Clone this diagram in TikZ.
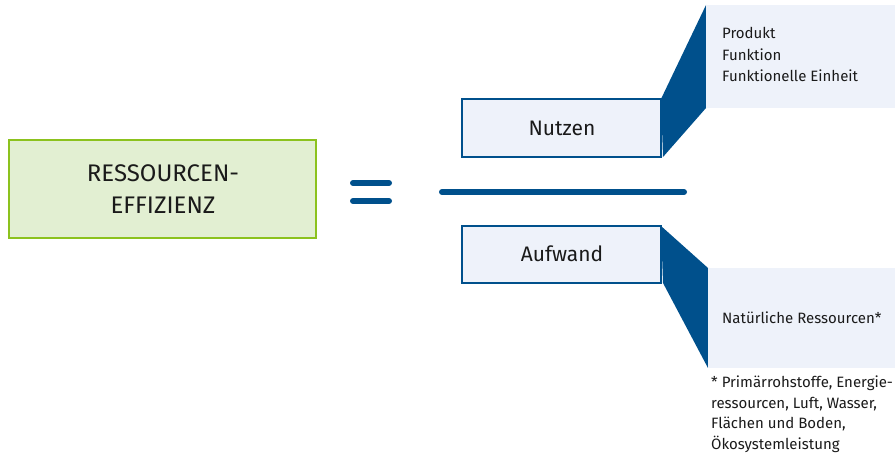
\documentclass[tikz,border=0pt]{standalone}
\usepackage{fontspec}
\setmainfont{Fira Sans}[Scale=1]
\definecolor{dblue}{HTML}{00508C}
\definecolor{lblue}{HTML}{EEF2FA}
\definecolor{lgreen}{HTML}{E2EFD2}
\definecolor{dgreen}{HTML}{8CC21E}
\definecolor{txt}{HTML}{1A1A1A}
\tikzset{
  bar/.style={draw=dblue, line width=6pt, line cap=round},
  termbox/.style={draw=dblue, fill=lblue, line width=2pt},
  wedge/.style={fill=dblue, draw=none},
  infobox/.style={fill=lblue, draw=none},
  small/.style={font=\fontsize{15}{20.5}\selectfont, text=txt, align=left, anchor=west, inner sep=0pt},
}
\begin{document}
\begin{tikzpicture}[x=1pt,y=-1pt]
\useasboundingbox (0,0) rectangle (895,454);
% left box
\draw[draw=dgreen, fill=lgreen, line width=2pt] (9,140) rectangle (316,238);
\node[font=\fontsize{24}{32}\selectfont, text=txt, align=center] (re) at (163,189) {RESSOURCEN-\\EFFIZIENZ};
% equals
\coordinate (e1a) at (353,183); \coordinate (e1b) at (389,183);
\coordinate (e2a) at (353,201); \coordinate (e2b) at (389,201);
\draw[bar] (e1a) -- (e1b);
\draw[bar] (e2a) -- (e2b);
% fraction bar
\coordinate (fa) at (442,192); \coordinate (fb) at (684,192);
\draw[bar] (fa) -- (fb);
% Nutzen
\fill[wedge] (661,99) -- (706,5) -- (706,108) -- (663,157) -- cycle;
\fill[infobox] (706,5) rectangle (895,108);
\draw[termbox] (462,99) rectangle (661,157);
\node[font=\fontsize{21}{26}\selectfont, text=txt] (nutzen) at (562,128) {Nutzen};
\node[small] (prod) at (722,33) {Produkt};
\node[small] (fkt) at (722,55) {Funktion};
\node[small] (fe) at (722,76) {Funktionelle Einheit};
% Aufwand
\fill[wedge] (661,226) -- (708,268) -- (708,368) -- (663,283) -- cycle;
\fill[infobox] (708,268) rectangle (895,368);
\draw[termbox] (462,226) rectangle (661,283);
\node[font=\fontsize{21}{26}\selectfont, text=txt] (aufwand) at (562,254) {Aufwand};
\node[small] (nat) at (722,318) {Natürliche Ressourcen*};
\node[small, anchor=north west] (fn) at (711,376) {* Primärrohstoffe, Energie-\\ressourcen, Luft, Wasser,\\Flächen und Boden,\\Ökosystemleistung};
\end{tikzpicture}
\end{document}
